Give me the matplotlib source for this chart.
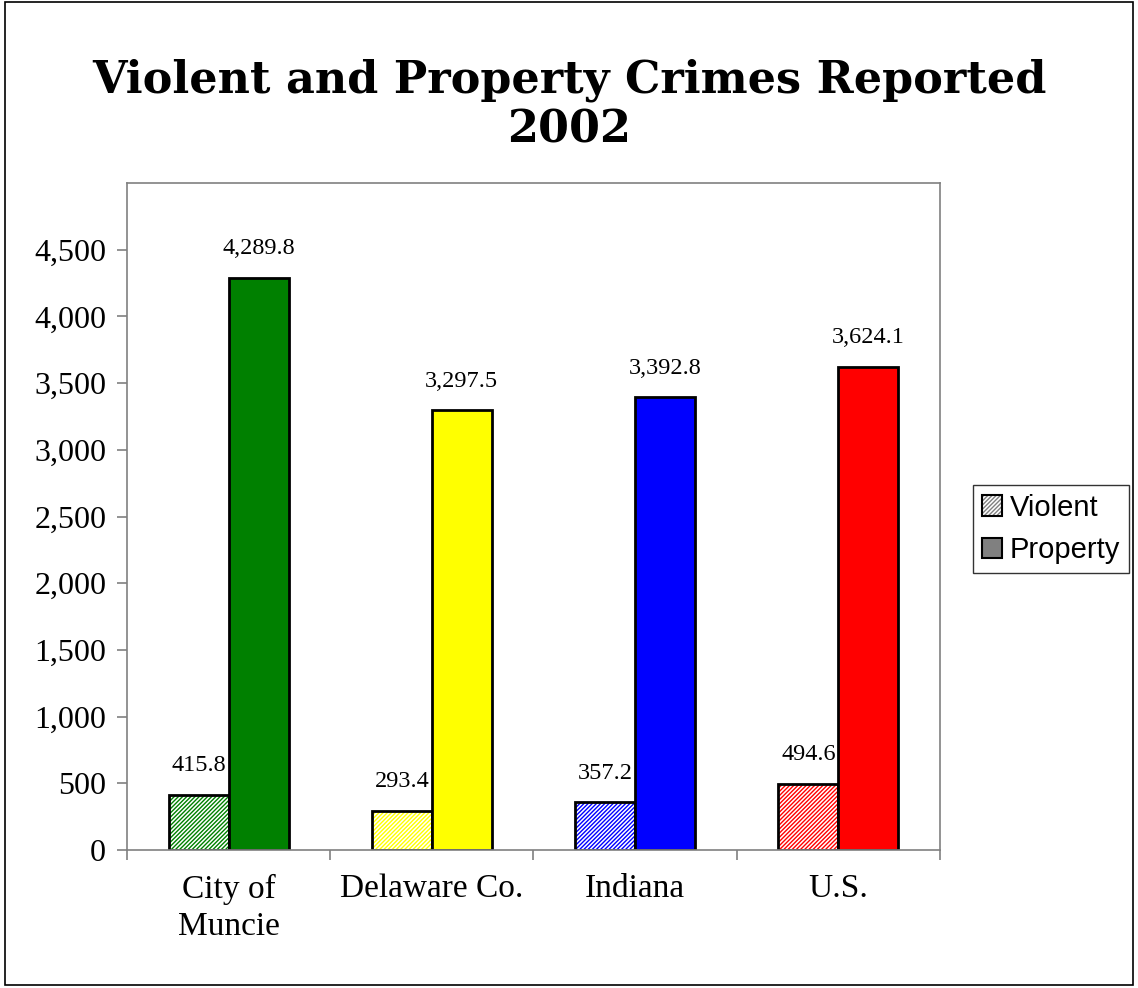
import matplotlib.pyplot as plt
from matplotlib.patches import Rectangle, Patch
from matplotlib.legend_handler import HandlerTuple
import numpy as np

# data
places = ["City of\nMuncie", "Delaware Co.", "Indiana", "U.S."]
violent = [415.8, 293.4, 357.2, 494.6]
property_ = [4289.8, 3297.5, 3392.8, 3624.1]
colors = ["#008000", "#ffff00", "#0000ff", "#ff0000"]

plt.rcParams['font.family'] = ['Liberation Serif', 'DejaVu Serif']
plt.rcParams['hatch.linewidth'] = 1.0
HATCH = "/" * 8

fig = plt.figure(figsize=(11.38, 9.88), dpi=100)
ax = fig.add_axes([0.1116, 0.1397, 0.7144, 0.675])

x = np.arange(len(places))
w = 0.295

# hatched violent bars, then outline on top
ax.bar(x - w / 2, violent, w, color="white", edgecolor=colors, hatch=HATCH, linewidth=0)
ax.bar(x - w / 2, violent, w, fill=False, edgecolor="black", linewidth=2)
ax.bar(x + w / 2, property_, w, color=colors, edgecolor="black", linewidth=2)

for xi, v, p in zip(x, violent, property_):
    ax.annotate(f"{v:,.1f}", (xi - w / 2, v), xytext=(0, 17), textcoords="offset points",
                ha="center", va="baseline", fontsize=17.5)
    ax.annotate(f"{p:,.1f}", (xi + w / 2, p), xytext=(0, 17), textcoords="offset points",
                ha="center", va="baseline", fontsize=17.5)

ax.set_xlim(-0.5, 3.5)
ax.set_ylim(0, 5000)
ax.set_yticks(np.arange(0, 4501, 500))
ax.set_yticklabels([f"{t:,}" for t in range(0, 4501, 500)], fontsize=23)
ax.set_xticks(x)
ax.set_xticklabels(places, fontsize=24, linespacing=1.3)
ax.set_xticks(np.arange(-0.5, 3.6, 1), minor=True)
ax.tick_params(axis="x", which="major", length=0, pad=17)
ax.tick_params(axis="x", which="minor", length=7, color="#808080", width=1.2)
ax.tick_params(axis="y", length=7, color="#808080", width=1.2, pad=8)
for s in ax.spines.values():
    s.set_color("#808080")
    s.set_linewidth(1.2)

fig.text(0.5, 0.894, "Violent and Property Crimes Reported\n2002", ha="center", va="center",
         fontsize=32, fontweight="bold", family=["DejaVu Serif"], linespacing=1.2)

handles = [(Patch(facecolor="white", edgecolor="#808080", hatch=HATCH, linewidth=0),
            Patch(fill=False, edgecolor="black", linewidth=1.5)),
           Patch(facecolor="#808080", edgecolor="black", linewidth=1.5)]
leg = fig.legend(handles, ["Violent", "Property"], loc="upper left",
                 handler_map={tuple: HandlerTuple(ndivide=1, pad=0)},
                 bbox_to_anchor=(0.855, 0.509), borderaxespad=0,
                 prop={"family": "Liberation Sans", "size": 21},
                 frameon=True, fancybox=False, edgecolor="black", handlelength=0.7,
                 handleheight=0.7, handletextpad=0.25, borderpad=0.3, labelspacing=0.5)
leg.get_frame().set_linewidth(1)

fig.patches.append(Rectangle((0.004, 0.003), 0.992, 0.995, transform=fig.transFigure,
                             fill=False, edgecolor="black", linewidth=1.2))

fig.savefig("out.png", dpi=100)
